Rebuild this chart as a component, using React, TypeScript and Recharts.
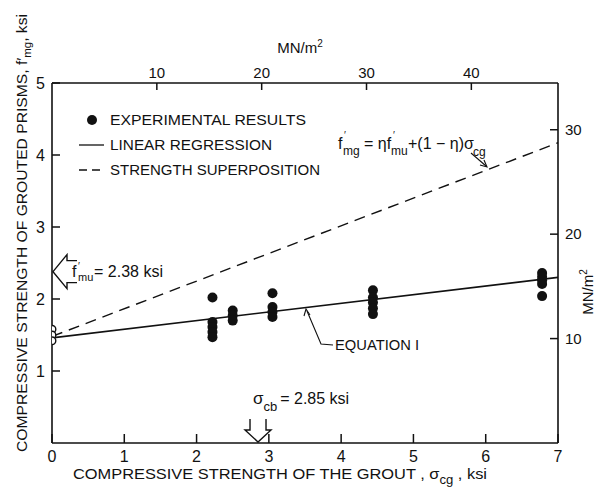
import {
  ComposedChart,
  Scatter,
  XAxis,
  YAxis,
  ReferenceDot,
} from 'recharts';

// grout strength (ksi) vs prism strength (ksi)
const groutKsi = [2.22, 2.22, 2.22, 2.22, 2.22, 2.5, 2.5, 2.5, 3.05, 3.05, 3.05, 3.05, 4.44, 4.44, 4.44, 4.44, 4.44, 6.78, 6.78, 6.78, 6.78, 6.78];
const prismKsi = [2.02, 1.68, 1.61, 1.54, 1.47, 1.84, 1.77, 1.7, 2.08, 1.89, 1.82, 1.75, 2.12, 2.02, 1.95, 1.87, 1.79, 2.36, 2.31, 2.26, 2.21, 2.04];

// ungrouted prisms (open circles at zero grout strength)
const ungroutedX = [0, 0, 0];
const ungroutedY = [1.58, 1.5, 1.42];

// equation I (linear regression) and strength superposition
const lineX = [0, 7];
const regressionY = [1.46, 2.3];
const superpositionY = [1.48, 4.17];

const ksiTicks = [0, 1, 2, 3, 4, 5, 6, 7];
const prismTicks = [1, 2, 3, 4, 5];
const mpaTopTicks = [10, 20, 30, 40];
const mpaRightTicks = [10, 20, 30];

const fmu = 2.38;
const sigmaCb = 2.85;
const KSI_TO_MPA = 6.895;

const FONT = '"Liberation Sans", Arial, sans-serif';
const INK = '#111';

const experimental = groutKsi.map((x, i) => ({ x, y: prismKsi[i] }));
const ungrouted = ungroutedX.map((x, i) => ({ x, y: ungroutedY[i] }));
const regression = lineX.map((x, i) => ({ x, y: regressionY[i] }));
const superposition = lineX.map((x, i) => ({ x, y: superpositionY[i] }));
const mpaFrame = [{ x: 0, y: 0 }];

function BottomTick({ x, y, payload }: any) {
  return (
    <g>
      <line x1={x} x2={x} y1={y} y2={y - 9} stroke={INK} strokeWidth={1.5} />
      <text x={x} y={y + 19} textAnchor="middle" fontSize={16} fontFamily={FONT} fill={INK}>
        {payload.value}
      </text>
    </g>
  );
}

function LeftTick({ x, y, payload }: any) {
  return (
    <g>
      <line x1={x} x2={x + 8} y1={y} y2={y} stroke={INK} strokeWidth={1.5} />
      <text x={x - 7} y={y + 6} textAnchor="end" fontSize={16} fontFamily={FONT} fill={INK}>
        {payload.value}
      </text>
    </g>
  );
}

function TopTick({ x, y, payload }: any) {
  return (
    <g>
      <line x1={x} x2={x} y1={y} y2={y + 7} stroke={INK} strokeWidth={1.5} />
      <text x={x} y={y - 5} textAnchor="middle" fontSize={15} fontFamily={FONT} fill={INK}>
        {payload.value}
      </text>
    </g>
  );
}

function RightTick({ x, y, payload }: any) {
  return (
    <g>
      <line x1={x - 8} x2={x} y1={y} y2={y} stroke={INK} strokeWidth={1.5} />
      <text x={x + 7} y={y + 5} textAnchor="start" fontSize={15} fontFamily={FONT} fill={INK}>
        {payload.value}
      </text>
    </g>
  );
}

function FilledDot({ cx, cy }: any) {
  return <circle cx={cx} cy={cy} r={5} fill={INK} />;
}

function OpenDot({ cx, cy }: any) {
  return <circle cx={cx} cy={cy} r={3.8} fill="#fff" stroke={INK} strokeWidth={1.4} />;
}

function NoDot() {
  return <g />;
}

// hollow arrow pointing left to f'mu on the y axis
function FmuMarker({ cx, cy }: any) {
  const d = `M${cx + 25},${cy - 11} L${cx + 15},${cy - 11} L${cx + 15},${cy - 17} L${cx + 1},${cy} L${cx + 15},${cy + 17} L${cx + 15},${cy + 11} L${cx + 25},${cy + 11}`;
  return (
    <g>
      <path d={d} fill="none" stroke={INK} strokeWidth={1.4} />
      <text x={cx + 20} y={cy + 5} fontSize={16} fontFamily={FONT} fill={INK}>
        f
      </text>
      <text x={cx + 26} y={cy - 2} fontSize={10} fontFamily={FONT} fill={INK}>
        ′
      </text>
      <text x={cx + 26} y={cy + 9} fontSize={11} fontFamily={FONT} fill={INK}>
        mu
      </text>
      <text x={cx + 42} y={cy + 5} fontSize={16} fontFamily={FONT} fill={INK}>
        = 2.38 ksi
      </text>
    </g>
  );
}

// hollow arrow pointing down to sigma_cb on the x axis
function SigmaCbMarker({ cx, cy }: any) {
  const d = `M${cx - 8},${cy - 24} L${cx - 8},${cy - 13} L${cx - 13},${cy - 13} L${cx},${cy - 1} L${cx + 13},${cy - 13} L${cx + 8},${cy - 13} L${cx + 8},${cy - 24}`;
  return (
    <g>
      <path d={d} fill="none" stroke={INK} strokeWidth={1.4} />
      <text x={cx - 5} y={cy - 39} fontSize={17} fontFamily={FONT} fill={INK}>
        σ
        <tspan fontSize={13} dy={7}>cb</tspan>
        <tspan fontSize={16} dy={-7} dx={3}>= 2.85 ksi</tspan>
      </text>
    </g>
  );
}

function Annotations() {
  return (
    <svg
      width={595}
      height={487}
      style={{ position: 'absolute', left: 0, top: 0, pointerEvents: 'none', overflow: 'hidden' }}
    >
      <g fontFamily={FONT} fill={INK}>
        {/* left axis title */}
        <text
          transform="translate(27,233) rotate(-90)"
          textAnchor="middle"
          fontSize={15}
          textLength={438}
          lengthAdjust="spacingAndGlyphs"
        >
          COMPRESSIVE STRENGTH OF GROUTED PRISMS, f′
          <tspan fontSize={11} dy={4}>mg</tspan>
          <tspan dy={-4}>, ksi</tspan>
        </text>
        {/* right axis title */}
        <text transform="translate(593,292) rotate(-90)" textAnchor="middle" fontSize={15}>
          MN/m
          <tspan fontSize={10} dy={-6}>2</tspan>
        </text>
        {/* top axis title */}
        <text x={300} y={53} textAnchor="middle" fontSize={15}>
          MN/m
          <tspan fontSize={10} dy={-6}>2</tspan>
        </text>
        {/* bottom axis title */}
        <text x={73} y={479} fontSize={15} textLength={414} lengthAdjust="spacingAndGlyphs">
          COMPRESSIVE STRENGTH OF THE GROUT , σ
          <tspan fontSize={12} dy={5}>cg</tspan>
          <tspan dy={-5}> , ksi</tspan>
        </text>

        {/* legend */}
        <circle cx={92} cy={120} r={5} fill={INK} />
        <text x={110} y={125} fontSize={15} textLength={196} lengthAdjust="spacingAndGlyphs">
          EXPERIMENTAL RESULTS
        </text>
        <line x1={79} x2={104} y1={145} y2={145} stroke={INK} strokeWidth={1.3} />
        <text x={110} y={150} fontSize={15} textLength={162} lengthAdjust="spacingAndGlyphs">
          LINEAR REGRESSION
        </text>
        <line x1={79} x2={104} y1={170} y2={170} stroke={INK} strokeWidth={1.3} strokeDasharray="8 5" />
        <text x={110} y={175} fontSize={15} textLength={210} lengthAdjust="spacingAndGlyphs">
          STRENGTH SUPERPOSITION
        </text>

        {/* superposition formula */}
        <text x={338} y={149} fontSize={16}>
          f
        </text>
        <text x={344} y={139} fontSize={10}>′</text>
        <text x={343} y={155} fontSize={12}>mg</text>
        <text x={364} y={149} fontSize={16}>
          = ηf
        </text>
        <text x={393} y={139} fontSize={10}>′</text>
        <text x={391} y={155} fontSize={12}>mu</text>
        <text x={408} y={149} fontSize={16}>
          +(1 − η)σ
        </text>
        <text x={473} y={156} fontSize={12}>cg</text>
        <line x1={471} y1={153} x2={486} y2={166} stroke={INK} strokeWidth={1.1} />
        <path d="M480,165 L487,167 L484,160" fill="none" stroke={INK} strokeWidth={1.1} />

        {/* equation I leader */}
        <text x={335} y={350} fontSize={15} textLength={84} lengthAdjust="spacingAndGlyphs">
          EQUATION I
        </text>
        <polyline points="333,345 321,344 307,311" fill="none" stroke={INK} strokeWidth={1.1} />
        <path d="M304,316 L306,309 L310,315" fill="none" stroke={INK} strokeWidth={1.1} />
      </g>
    </svg>
  );
}

export default function App() {
  return (
    <div style={{ position: 'absolute', left: 0, top: 0, width: 595, height: 487, background: '#fff' }}>
      <ComposedChart
        width={595}
        height={487}
        margin={{ top: 82, right: 36, bottom: 43, left: 51 }}
        style={{ fontFamily: FONT }}
      >
        <XAxis
          xAxisId="ksi"
          dataKey="x"
          type="number"
          domain={[0, 7]}
          ticks={ksiTicks}
          orientation="bottom"
          height={1}
          tickSize={0}
          tickMargin={0}
          tick={<BottomTick />}
          axisLine={{ stroke: INK, strokeWidth: 1.6 }}
          tickLine={false}
          interval={0}
          allowDataOverflow
        />
        <XAxis
          xAxisId="mpa"
          dataKey="x"
          type="number"
          domain={[0, 7 * KSI_TO_MPA]}
          ticks={mpaTopTicks}
          orientation="top"
          height={1}
          tickSize={0}
          tickMargin={0}
          tick={<TopTick />}
          axisLine={{ stroke: INK, strokeWidth: 1.6 }}
          tickLine={false}
          interval={0}
          allowDataOverflow
        />
        <YAxis
          yAxisId="ksi"
          dataKey="y"
          type="number"
          domain={[0, 5]}
          ticks={prismTicks}
          orientation="left"
          width={1}
          tickSize={0}
          tickMargin={0}
          tick={<LeftTick />}
          axisLine={{ stroke: INK, strokeWidth: 1.6 }}
          tickLine={false}
          interval={0}
          allowDataOverflow
        />
        <YAxis
          yAxisId="mpa"
          dataKey="y"
          type="number"
          domain={[0, 5 * KSI_TO_MPA]}
          ticks={mpaRightTicks}
          orientation="right"
          width={1}
          tickSize={0}
          tickMargin={0}
          tick={<RightTick />}
          axisLine={{ stroke: INK, strokeWidth: 1.6 }}
          tickLine={false}
          interval={0}
          allowDataOverflow
        />

        {/* hidden series so the MN/m2 axes have something bound to them */}
        <Scatter data={mpaFrame} xAxisId="mpa" yAxisId="mpa" shape={<NoDot />} isAnimationActive={false} />

        <Scatter
          data={superposition}
          xAxisId="ksi"
          yAxisId="ksi"
          line={{ stroke: INK, strokeWidth: 1.4, strokeDasharray: '11 7' }}
          shape={<NoDot />}
          isAnimationActive={false}
        />
        <Scatter
          data={regression}
          xAxisId="ksi"
          yAxisId="ksi"
          line={{ stroke: INK, strokeWidth: 1.6 }}
          shape={<NoDot />}
          isAnimationActive={false}
        />
        <Scatter data={experimental} xAxisId="ksi" yAxisId="ksi" shape={<FilledDot />} isAnimationActive={false} />
        <Scatter data={ungrouted} xAxisId="ksi" yAxisId="ksi" shape={<OpenDot />} isAnimationActive={false} />

        <ReferenceDot xAxisId="ksi" yAxisId="ksi" x={0} y={fmu} ifOverflow="visible" shape={<FmuMarker />} />
        <ReferenceDot xAxisId="ksi" yAxisId="ksi" x={sigmaCb} y={0} ifOverflow="visible" shape={<SigmaCbMarker />} />
      </ComposedChart>
      <Annotations />
    </div>
  );
}
